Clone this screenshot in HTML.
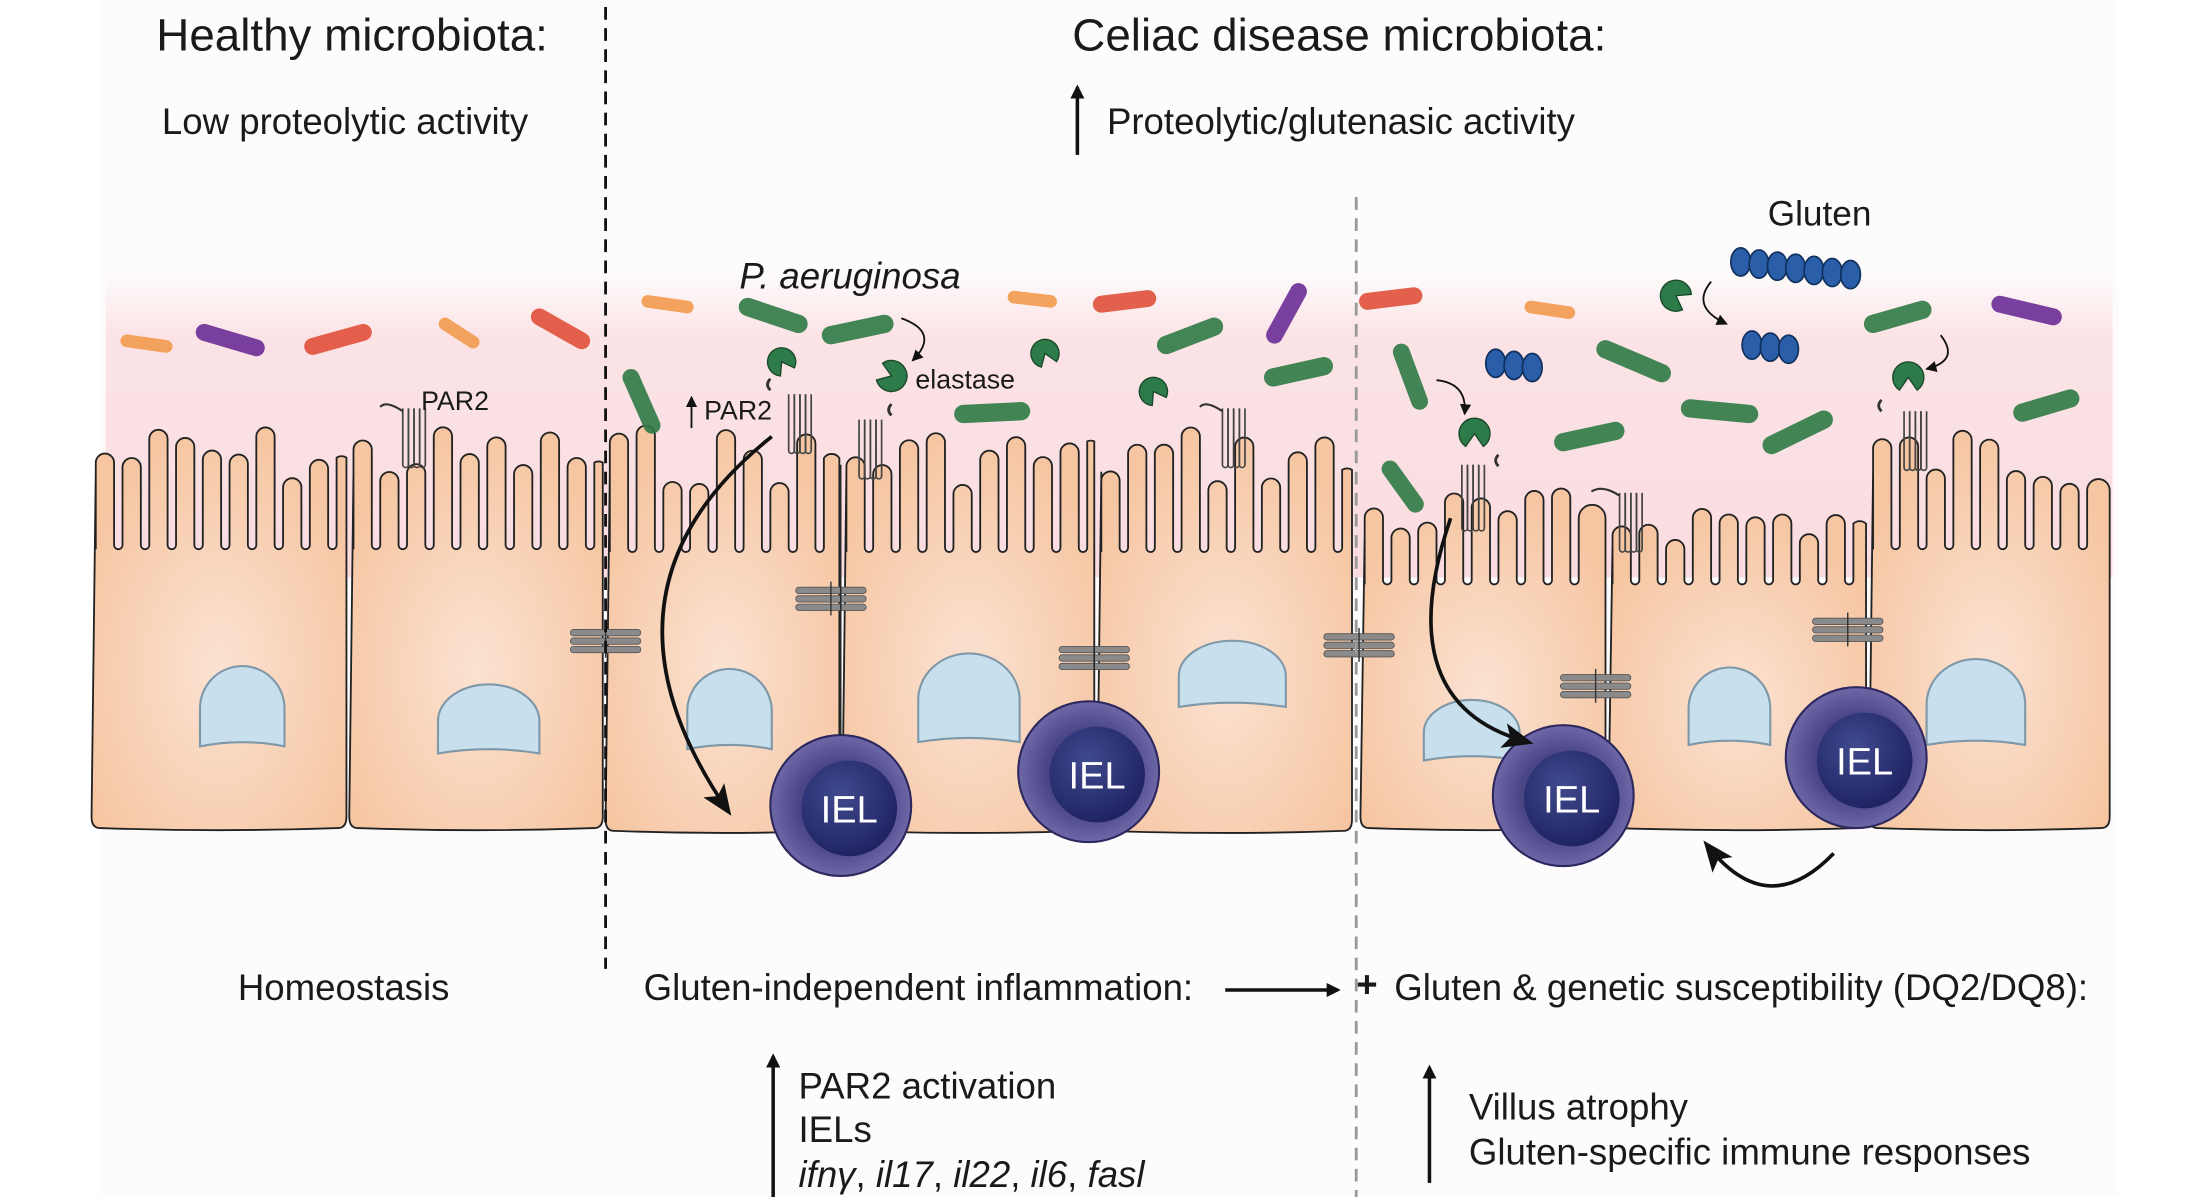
<!DOCTYPE html>
<html><head><meta charset="utf-8">
<style>
html,body{margin:0;padding:0;background:#fff;}
svg{display:block;}
text{font-family:"Liberation Sans",Arial,sans-serif;fill:#1a1a1a;}
</style></head>
<body>
<svg id="s" width="2197" height="1197" viewBox="0 0 1560 850" preserveAspectRatio="none" xmlns="http://www.w3.org/2000/svg">
<defs>
<linearGradient id="muc" x1="0" y1="0" x2="0" y2="1">
<stop offset="0" stop-color="#fbe3e6" stop-opacity="0"/>
<stop offset="0.2" stop-color="#fbe3e6" stop-opacity="1"/>
<stop offset="1" stop-color="#fadce0"/>
</linearGradient>
<radialGradient id="cell" cx="0.5" cy="0.6" r="0.6">
<stop offset="0" stop-color="#fbe2d2"/>
<stop offset="1" stop-color="#f6c6a2"/>
</radialGradient>
<radialGradient id="iel" cx="0.5" cy="0.5" r="0.5">
<stop offset="0.6" stop-color="#4a4585"/>
<stop offset="1" stop-color="#6e68a8"/>
</radialGradient>
<radialGradient id="ieli" cx="0.4" cy="0.35" r="0.7">
<stop offset="0" stop-color="#3f4a8e"/>
<stop offset="1" stop-color="#1e2160"/>
</radialGradient>
<marker id="ah" markerWidth="10" markerHeight="10" refX="8" refY="5" orient="auto" markerUnits="userSpaceOnUse">
<path d="M0,0 L10,5 L0,10 z" fill="#111"/></marker>
<marker id="ahb" markerWidth="22" markerHeight="18" refX="18" refY="9" orient="auto" markerUnits="userSpaceOnUse">
<path d="M0,0 L22,9 L0,18 L5,9 z" fill="#111"/></marker>
<marker id="ahs" markerWidth="8" markerHeight="8" refX="7" refY="4" orient="auto" markerUnits="userSpaceOnUse">
<path d="M0,0 L8,4 L0,8 z" fill="#111"/></marker>
</defs>
<rect x="0" y="0" width="1560" height="850" fill="#fff"/>
<rect x="72" y="0" width="1432" height="850" fill="#fdfbfb"/>
<rect x="75" y="195" width="1425" height="215" fill="url(#muc)"/>
<g id="cells"></g>
<g id="over"></g>

<text x="250" y="36" font-size="32.5" text-anchor="middle">Healthy microbiota:</text>
<text x="951" y="36" font-size="32.5" text-anchor="middle">Celiac disease microbiota:</text>
<text x="245" y="95" font-size="26" text-anchor="middle">Low proteolytic activity</text>
<line x1="765" y1="110" x2="765" y2="62" stroke="#111" stroke-width="2.5" marker-end="url(#ah)"/>
<text x="786" y="95" font-size="26">Proteolytic/glutenasic activity</text>
<text x="1292" y="160" font-size="25" text-anchor="middle">Gluten</text>
<text x="525" y="205" font-size="26" font-style="italic">P. aeruginosa</text>

<line x1="430" y1="5" x2="430" y2="688" stroke="#111" stroke-width="2" stroke-dasharray="9,6"/>
<line x1="963" y1="140" x2="963" y2="850" stroke="#999" stroke-width="2" stroke-dasharray="9,6"/>

<text x="244" y="710" font-size="26" text-anchor="middle">Homeostasis</text>
<text x="457" y="710" font-size="26">Gluten-independent inflammation:</text>
<line x1="870" y1="703" x2="950" y2="703" stroke="#111" stroke-width="2.5" marker-end="url(#ah)"/>
<text x="963" y="708" font-size="26" font-weight="bold">+</text>
<text x="990" y="710" font-size="26">Gluten &amp; genetic susceptibility (DQ2/DQ8):</text>
<line x1="549" y1="850" x2="549" y2="750" stroke="#111" stroke-width="2.5" marker-end="url(#ah)"/>
<text x="567" y="780" font-size="26">PAR2 activation</text>
<text x="567" y="811" font-size="26">IELs</text>
<text x="567" y="843" font-size="26"><tspan font-style="italic">ifnγ</tspan>, <tspan font-style="italic">il17</tspan>, <tspan font-style="italic">il22</tspan>, <tspan font-style="italic">il6</tspan>, <tspan font-style="italic">fasl</tspan></text>
<line x1="1015" y1="840" x2="1015" y2="758" stroke="#111" stroke-width="2.5" marker-end="url(#ah)"/>
<text x="1043" y="795" font-size="26">Villus atrophy</text>
<text x="1043" y="827" font-size="26">Gluten-specific immune responses</text>
</svg>
<script>
(function(){
var NS="http://www.w3.org/2000/svg";
var cg=document.getElementById("cells"), og=document.getElementById("over");
function el(p,tag,a){var e=document.createElementNS(NS,tag);for(var k in a)e.setAttribute(k,a[k]);p.appendChild(e);return e;}
var seed=7;function rnd(){seed=(seed*9301+49297)%233280;return seed/233280;}
function cell(x0,x1,side,valley,topMin,topMax,bot){
 var w=13,g=6,d="M"+(x0+6)+","+bot+" Q"+x0+","+bot+" "+x0+","+(bot-8)+" L"+(x0+3)+","+side;
 var x=x0+3; d+=" L"+x+","+valley;
 while(x+w+g<x1-4){
  var top=topMin+rnd()*(topMax-topMin);
  d+=" L"+x+","+(top+w/2)+" A"+(w/2)+","+(w/2)+" 0 0 1 "+(x+w)+","+(top+w/2)+" L"+(x+w)+","+(valley-g/2)+" A"+(g/2)+","+(g/2)+" 0 0 0 "+(x+w+g)+","+(valley-g/2);
  x+=w+g;
 }
 var top=topMin+rnd()*(topMax-topMin);
 d+=" L"+x+","+(top+w/2)+" A"+(w/2)+","+(w/2)+" 0 0 1 "+(x1)+","+(top+w/2)+" L"+x1+","+(bot-8)+" Q"+x1+","+bot+" "+(x1-6)+","+bot+" Q"+((x0+x1)/2)+","+(bot+3)+" "+(x0+6)+","+bot+" Z";
 el(cg,"path",{d:d,fill:"url(#cell)",stroke:"#222","stroke-width":1.3});
}
var cs=[[65,246,335,390,300,345,588],[248,428,335,390,300,345,588],[430,596,335,392,300,345,590],[598,777,335,392,300,345,590],[779,960,335,392,300,345,590],
[966,1140,380,415,345,385,588],[1142,1325,385,415,350,385,588],[1327,1498,335,390,300,345,588]];
cs.forEach(function(c){cell.apply(null,c);});
[[172,503,30,27],[347,512,36,23],[518,505,30,27],[688,497,36,30],[875,480,38,22],[1045,520,34,20],[1228,503,29,26],[1403,500,35,29]].forEach(function(n){
 el(og,"path",{d:"M"+(n[0]-n[2])+","+(n[1]+n[3])+" L"+(n[0]-n[2])+","+n[1]+" A"+n[2]+","+(n[3]+3)+" 0 0 1 "+(n[0]+n[2])+","+n[1]+" L"+(n[0]+n[2])+","+(n[1]+n[3])+" Q"+n[0]+","+(n[1]+n[3]-6)+" "+(n[0]-n[2])+","+(n[1]+n[3])+" Z",fill:"#c8dfee",stroke:"#7f98a8","stroke-width":1.5});
});
[[430,455],[590,425],[777,467],[965,458],[1133,487],[1312,447]].forEach(function(t){
 for(var i=0;i<3;i++) el(og,"rect",{x:t[0]-25,y:t[1]-8+i*6,width:50,height:4.5,rx:2.2,fill:"#8a8a8a",stroke:"#555","stroke-width":0.6});
 el(og,"line",{x1:t[0],y1:t[1]-12,x2:t[0],y2:t[1]+12,stroke:"#333","stroke-width":1});
});
[[597,572],[773,548],[1110,565],[1318,538]].forEach(function(p){
 el(og,"circle",{cx:p[0],cy:p[1],r:50,fill:"url(#iel)",stroke:"#2c285e","stroke-width":1.5});
 el(og,"circle",{cx:p[0]+6,cy:p[1]+2,r:34,fill:"url(#ieli)"});
 var t=el(og,"text",{x:p[0]+6,y:p[1]+12,"font-size":27,"text-anchor":"middle",style:"fill:#fff"});t.textContent="IEL";
});
el(og,"line",{x1:597,y1:330,x2:597,y2:522,stroke:"#222","stroke-width":1});
el(og,"line",{x1:777,y1:330,x2:777,y2:498,stroke:"#222","stroke-width":1});
function bac(x1,y1,x2,y2,c,w){
 el(og,"line",{x1:x1,y1:y1,x2:x2,y2:y2,stroke:c,"stroke-width":w||10,"stroke-linecap":"round","stroke-opacity":0.9});
}
var O="#f29a4e",R="#e0503a",P="#6a2c96",G="#2f7a45";
[[90,242,118,246,O,9],[145,236,182,247,P,12],[222,246,258,236,R,12],[316,230,336,243,O,9],[383,225,413,242,R,12],
 [460,214,488,218,O,9],[531,218,567,230,G,13],[590,238,628,230,G,13],[720,211,746,214,O,9],[782,216,815,212,R,12],[905,238,922,207,P,12],
 [448,268,463,302,G,12],[684,294,725,292,G,13],[828,245,862,232,G,13],[904,268,940,260,G,13],
 [971,214,1004,210,R,12],[1087,218,1114,222,O,9],[1420,216,1458,225,P,12],[1330,230,1365,220,G,13],[1140,248,1180,265,G,13],
 [995,250,1008,285,G,12],[987,333,1005,358,G,12],[1110,314,1147,306,G,13],[1200,290,1242,294,G,13],[1258,316,1295,298,G,13],[1436,293,1470,283,G,13]
].forEach(function(b){bac(b[0],b[1],b[2],b[3],b[4],b[5]);});
function pac(x,y,r,a){
 var a1=(a-35)*Math.PI/180,a2=(a+35)*Math.PI/180;
 el(og,"path",{d:"M"+x+","+y+" L"+(x+r*Math.cos(a1))+","+(y+r*Math.sin(a1))+" A"+r+","+r+" 0 1 0 "+(x+r*Math.cos(a2))+","+(y+r*Math.sin(a2))+" Z",fill:"#2e7b4a",stroke:"#1a4a2a","stroke-width":1});
}
pac(555,257,10,60);pac(633,267,11,200);pac(742,251,10,70);pac(819,278,10,60);pac(1047,308,11,90);pac(1190,210,11,30);pac(1355,268,11,90);
function beads(x,y,n){for(var i=0;i<n;i++) el(og,"ellipse",{cx:x+i*13,cy:y+i*1.5,rx:7,ry:10,fill:"#2a5ea8",stroke:"#10305e","stroke-width":1.2});}
beads(1236,186,7);beads(1244,245,3);beads(1062,258,3);
function par(x,y,h){
 for(var i=0;i<4;i++) el(og,"path",{d:"M"+(x+i*4)+","+y+" l0,"+h+" a2,2 0 0 0 4,0 l0,-"+h,fill:"none",stroke:"#444","stroke-width":1.2});
}
par(286,290,40);el(og,"path",{d:"M286,292 q-12,-8 -16,-3",fill:"none",stroke:"#333","stroke-width":1.5});
par(560,280,40);par(610,298,40);par(868,290,40);el(og,"path",{d:"M868,292 q-12,-8 -16,-3",fill:"none",stroke:"#333","stroke-width":1.5});
par(1038,330,45);par(1150,350,40);el(og,"path",{d:"M1150,352 q-12,-8 -20,-3",fill:"none",stroke:"#333","stroke-width":1.5});par(1352,292,40);
[[547,269],[633,287],[1064,323],[1336,284]].forEach(function(p){el(og,"path",{d:"M"+p[0]+","+p[1]+" q-4,4 0,8",fill:"none",stroke:"#333","stroke-width":2});});
var t=el(og,"text",{x:299,y:291,"font-size":19});t.textContent="PAR2";
t=el(og,"text",{x:500,y:298,"font-size":19});t.textContent="PAR2";
el(og,"line",{x1:491,y1:304,x2:491,y2:282,stroke:"#111","stroke-width":1.3,"marker-end":"url(#ahs)"});
t=el(og,"text",{x:650,y:276,"font-size":19});t.textContent="elastase";
el(og,"path",{d:"M640,226 Q668,236 648,256",fill:"none",stroke:"#111","stroke-width":1.3,"marker-end":"url(#ahs)"});
el(og,"path",{d:"M1020,270 Q1042,272 1040,294",fill:"none",stroke:"#111","stroke-width":1.3,"marker-end":"url(#ahs)"});
el(og,"path",{d:"M1215,200 Q1200,218 1226,230",fill:"none",stroke:"#111","stroke-width":1.3,"marker-end":"url(#ahs)"});
el(og,"path",{d:"M1378,238 Q1392,256 1368,262",fill:"none",stroke:"#111","stroke-width":1.3,"marker-end":"url(#ahs)"});
el(og,"path",{d:"M548,310 Q410,420 517,576",fill:"none",stroke:"#111","stroke-width":2.6,"marker-end":"url(#ahb)"});
el(og,"path",{d:"M1030,368 Q985,500 1085,527",fill:"none",stroke:"#111","stroke-width":2.6,"marker-end":"url(#ahb)"});
el(og,"path",{d:"M1302,606 Q1255,655 1212,600",fill:"none",stroke:"#111","stroke-width":2.6,"marker-end":"url(#ahb)"});
})();
</script>
</body></html>
